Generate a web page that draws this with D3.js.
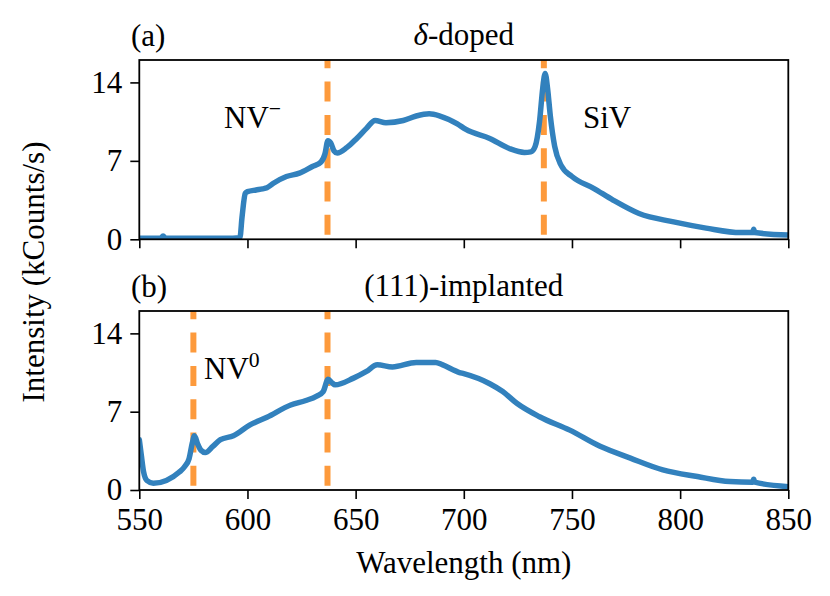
<!DOCTYPE html>
<meta charset="utf-8">
<script src="https://d3js.org/d3.v7.min.js"></script>
<style>
  body { margin: 0; background: #fff; }
  text { font-family: 'Liberation Serif', serif; fill: #000; }
</style>
<div id="my_dataviz"></div>
<script>

// wavelength ticks and intensity ticks
var xTicks = [550, 600, 650, 700, 750, 800, 850];
var yTicks = [0, 7, 14];

// panel (a): delta-doped
var wlA = [550, 556, 560, 561, 562, 575, 590, 596.5, 597.5, 599, 600, 604, 607, 609, 612, 618, 624, 630, 634,
  635.8, 637.2, 638.5, 640, 641.5, 646, 650.5, 655, 659, 664, 672, 678, 684, 689, 697, 701, 712, 721, 728, 731,
  733, 735, 736.5, 737.6, 738.7, 740, 742, 745, 750, 760, 769, 781, 797, 812, 828, 833.5, 834, 834.5, 850];
var intA = [0.1, 0.1, 0.1, 0.3, 0.1, 0.1, 0.1, 0.15, 2.0, 4.1, 4.25, 4.4, 4.5, 4.6, 5.0, 5.6, 5.9, 6.5, 6.9,
  7.6, 8.8, 8.6, 7.9, 7.7, 8.2, 9.0, 9.9, 10.6, 10.4, 10.6, 11.0, 11.2, 11.0, 10.3, 9.8, 9.0, 8.1, 7.75, 7.8,
  8.3, 10.5, 13.5, 14.8, 13.5, 11.0, 8.3, 6.6, 5.6, 4.55, 3.5, 2.3, 1.55, 1.0, 0.6, 0.6, 0.9, 0.6, 0.38];

// panel (b): (111)-implanted
var wlB = [550, 551, 552, 553.5, 556.5, 562.5, 568.5, 571, 573, 574.5, 575.5, 577, 578.5, 580.5, 584, 587.5,
  593.5, 601, 609, 620, 627, 632, 635, 637.3, 639, 640.5, 649, 655, 660, 667, 678, 687, 690, 698, 700, 712, 718,
  724.5, 735, 749, 763, 777, 792, 808, 823, 833.5, 834, 834.5, 850];
var intB = [4.5, 3.0, 1.6, 0.85, 0.6, 0.85, 1.6, 2.1, 2.8, 4.2, 4.85, 4.1, 3.55, 3.35, 3.9, 4.5,
  4.85, 5.8, 6.5, 7.6, 8.0, 8.4, 8.8, 9.9, 9.6, 9.4, 10.0, 10.6, 11.2, 11.0, 11.4, 11.4, 11.2, 10.5, 10.4, 9.5, 8.8,
  7.75, 6.55, 5.35, 3.9, 2.85, 1.8, 1.2, 0.75, 0.7, 0.95, 0.7, 0.3];

var markersA = [637, 737];
var markersB = [575, 637];

var width = 830, height = 596;
var left = 139.3, right = 788.3;

var svg = d3.select("#my_dataviz")
  .append("svg")
    .attr("width", width)
    .attr("height", height);

var x = d3.scaleLinear()
  .domain([550, 850])
  .range([left, right]);

var fs = 31;

function panel(top, bottom, wl, vals, markers, tag, title, labels, id) {
  var y = d3.scaleLinear()
    .domain([0, 16])
    .range([bottom, top]);

  svg.append("clipPath")
      .attr("id", id)
    .append("rect")
      .attr("x", left)
      .attr("y", top)
      .attr("width", right - left)
      .attr("height", bottom - top);

  var g = svg.append("g").attr("clip-path", "url(#" + id + ")");

  markers.forEach(function(m) {
    g.append("line")
      .attr("x1", x(m)).attr("x2", x(m))
      .attr("y1", top).attr("y2", bottom)
      .attr("stroke", "#fd9a3c")
      .attr("stroke-width", 6)
      .attr("stroke-dasharray", "20,13.3")
      .attr("stroke-dashoffset", 11.7);
  });

  var pts = wl.map(function(d, i) { return [d, vals[i]]; });
  g.append("path")
    .datum(pts)
    .attr("fill", "none")
    .attr("stroke", "#3281bd")
    .attr("stroke-width", 5.5)
    .attr("stroke-linejoin", "round")
    .attr("stroke-linecap", "round")
    .attr("d", d3.line()
      .curve(d3.curveMonotoneX)
      .x(function(d) { return x(d[0]); })
      .y(function(d) { return y(d[1]); }));

  var yAxis = svg.append("g")
    .attr("transform", "translate(" + left + ",0)")
    .call(d3.axisLeft(y).tickValues(yTicks).tickSize(9).tickPadding(8));
  var xAxis = svg.append("g")
    .attr("transform", "translate(0," + bottom + ")")
    .call(d3.axisBottom(x).tickValues(xTicks).tickSize(9).tickPadding(9));
  [yAxis, xAxis].forEach(function(a) {
    a.select(".domain").remove();
    a.selectAll("line").attr("stroke", "#000").attr("stroke-width", 1.6);
    a.selectAll("text").style("font-family", "'Liberation Serif', serif").style("font-size", fs + "px");
  });
  if (!labels.showX) xAxis.selectAll("text").remove();

  svg.append("rect")
    .attr("x", left).attr("y", top)
    .attr("width", right - left).attr("height", bottom - top)
    .attr("fill", "none")
    .attr("stroke", "#000")
    .attr("stroke-width", 1.8);

  svg.append("text")
    .attr("x", 131).attr("y", top - 14)
    .style("font-size", fs + "px")
    .text(tag);
  svg.append("text")
    .attr("x", (left + right) / 2).attr("y", top - 15)
    .style("text-anchor", "middle")
    .style("font-size", fs + "px")
    .html(title);

  labels.notes.forEach(function(n) {
    var t = svg.append("text")
      .attr("x", n.x).attr("y", n.y)
      .style("font-size", fs + "px");
    t.append("tspan").text(n.main);
    t.append("tspan")
      .attr("dy", -12)
      .style("font-size", (fs * 0.7) + "px")
      .text(n.sup);
  });
}

panel(60, 239.3, wlA, intA, markersA, "(a)", "<tspan font-style='italic'>δ</tspan>-doped",
  {showX: false, notes: [{x: 224, y: 128, main: "NV", sup: "−"}, {x: 583, y: 128, main: "SiV", sup: ""}]}, "clipA");
panel(311, 490, wlB, intB, markersB, "(b)", "(111)-implanted",
  {showX: true, notes: [{x: 204, y: 379, main: "NV", sup: "0"}]}, "clipB");

svg.append("text")
  .attr("x", (left + right) / 2)
  .attr("y", 573)
  .style("text-anchor", "middle")
  .style("font-size", fs + "px")
  .text("Wavelength (nm)");

svg.append("text")
  .attr("transform", "translate(44,272) rotate(-90)")
  .style("text-anchor", "middle")
  .style("font-size", fs + "px")
  .text("Intensity (kCounts/s)");

</script>
